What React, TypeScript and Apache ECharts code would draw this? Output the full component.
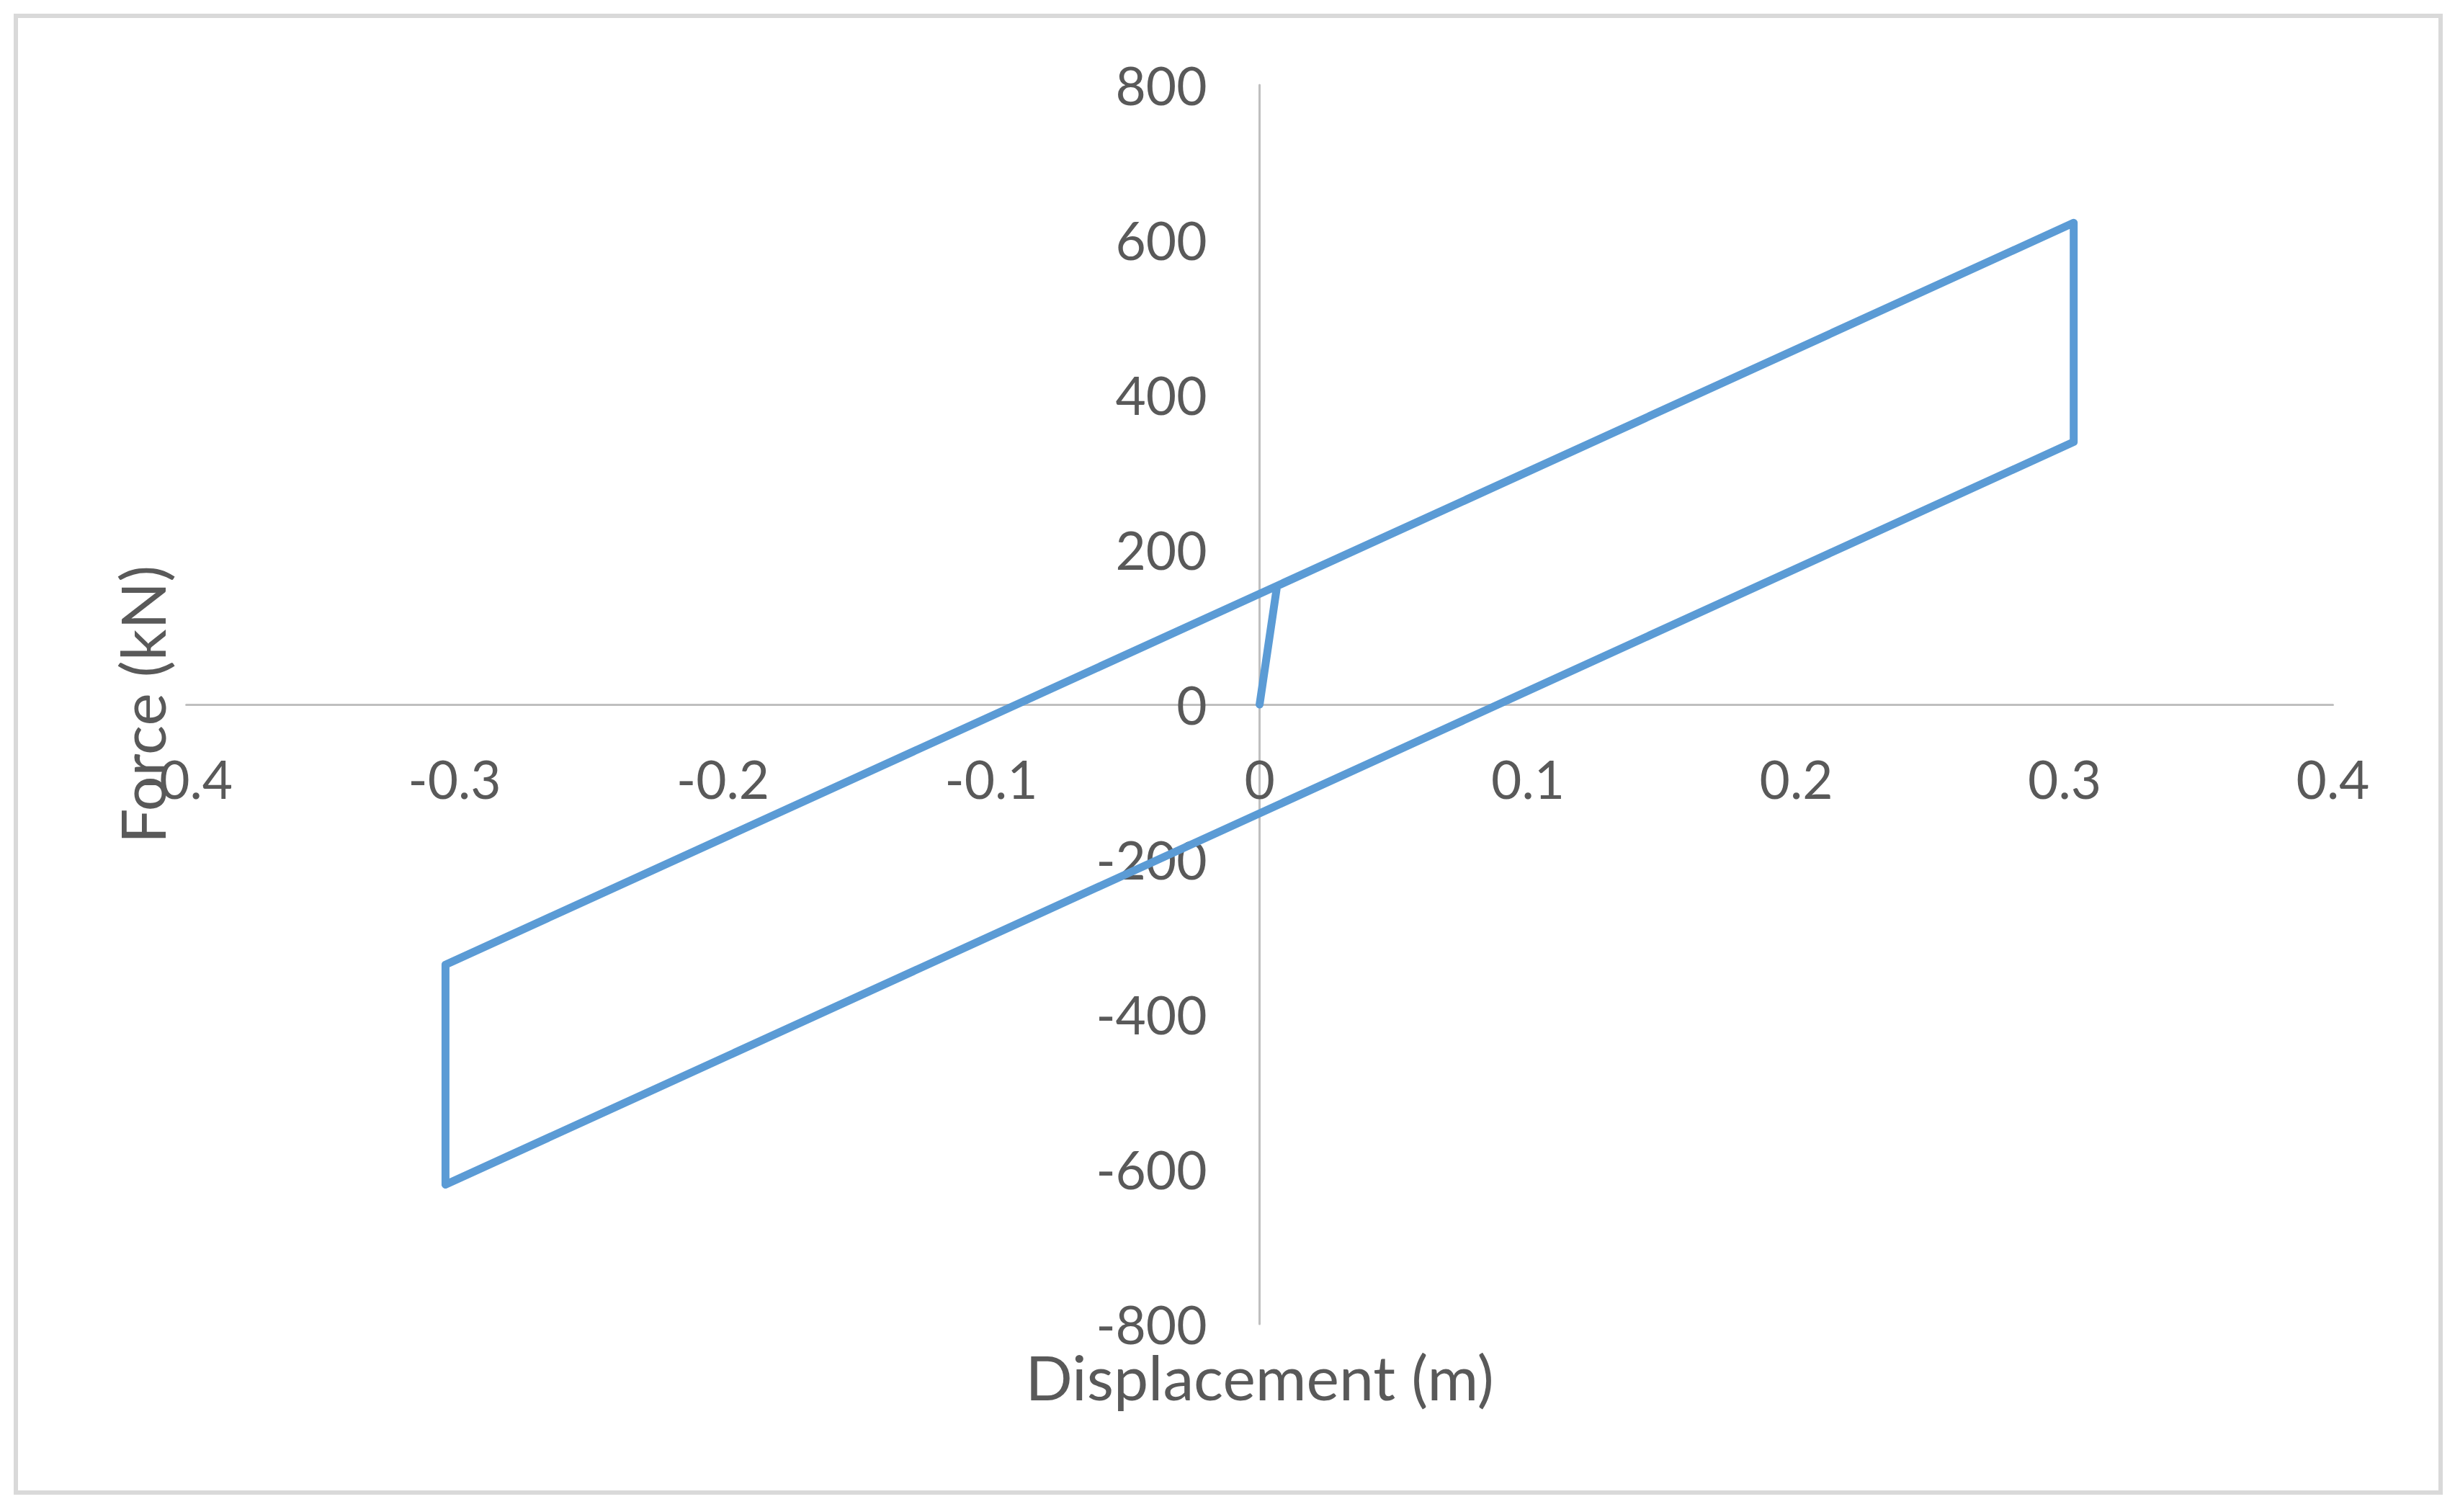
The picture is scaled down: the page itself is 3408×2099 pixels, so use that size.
import React, { useEffect, useRef } from "react";
import * as echarts from "echarts";

// Hysteresis loop: displacement (m) vs force (kN)
const displacement = [0, 0.0065, 0.3034, 0.3034, -0.3034, -0.3034, 0.3034];
const force = [0, 153, 622, 339, -620, -336, 622];

const xTicks = [-0.4, -0.3, -0.2, -0.1, 0, 0.1, 0.2, 0.3, 0.4];
const yTicks = [-800, -600, -400, -200, 0, 200, 400, 600, 800];

const xTitle = "Displacement (m)";
const yTitle = "Force (kN)";

const FONT = "Lato, 'Open Sans', sans-serif";
const TEXT = "#595959";

export default function App() {
  const ref = useRef<HTMLDivElement>(null);

  useEffect(() => {
    if (!ref.current) return;
    const chart = echarts.init(ref.current, undefined, { renderer: "svg" });
    const gridLeft = 258.6;
    const gridRight = 3238.5;
    const gridTop = 118;
    const gridBottom = 1838;
    const zeroX = gridLeft + (gridRight - gridLeft) / 2;
    const zeroY = gridTop + (gridBottom - gridTop) / 2;

    chart.setOption({
      animation: false,
      backgroundColor: "#ffffff",
      grid: {
        left: gridLeft,
        top: gridTop,
        width: gridRight - gridLeft,
        height: gridBottom - gridTop,
        containLabel: false,
        outerBoundsMode: "none",
      },
      xAxis: {
        type: "value",
        min: xTicks[0],
        max: xTicks[xTicks.length - 1],
        interval: 0.1,
        offset: -(gridBottom - zeroY),
        splitLine: { show: false },
        axisTick: { show: false },
        axisLine: { onZero: false, lineStyle: { color: "#bfbfbf", width: 3 } },
        axisLabel: {
          color: TEXT,
          fontFamily: FONT,
          fontSize: 73,
          margin: 103,
          verticalAlign: "middle",
          showMinLabel: true,
          showMaxLabel: true,
          formatter: (v: number) => {
            const t = xTicks.find((k) => Math.abs(k - v) < 1e-9);
            return t === undefined ? "" : String(t);
          },
        },
        name: xTitle,
        nameLocation: "middle",
        nameGap: 932,
        nameTextStyle: {
          color: TEXT,
          fontFamily: FONT,
          fontSize: 86,
          verticalAlign: "middle",
        },
      },
      yAxis: {
        type: "value",
        min: yTicks[0],
        max: yTicks[yTicks.length - 1],
        interval: 200,
        offset: -(zeroX - gridLeft),
        splitLine: { show: false },
        axisTick: { show: false },
        axisLine: { onZero: false, lineStyle: { color: "#bfbfbf", width: 3 } },
        axisLabel: {
          color: TEXT,
          fontFamily: FONT,
          fontSize: 73,
          margin: 73,
          showMinLabel: true,
          showMaxLabel: true,
          formatter: (v: number) => {
            const t = yTicks.find((k) => Math.abs(k - v) < 1e-6);
            return t === undefined ? "" : String(t);
          },
        },
        name: yTitle,
        nameLocation: "middle",
        nameGap: 1552,
        nameTextStyle: {
          color: TEXT,
          fontFamily: FONT,
          fontSize: 86,
          verticalAlign: "middle",
        },
      },
      graphic: [
        {
          type: "rect",
          shape: { x: 22, y: 22, width: 3366, height: 2050 },
          style: { fill: "none", stroke: "#d9d9d9", lineWidth: 6 },
          silent: true,
          z: 100,
        },
      ],
      series: [
        {
          type: "line",
          data: displacement.map((d, i) => [d, force[i]]),
          showSymbol: false,
          symbol: "none",
          lineStyle: {
            color: "#5b9bd5",
            width: 11,
            join: "round",
            cap: "round",
          },
          itemStyle: { color: "#5b9bd5" },
        },
      ],
    });

    return () => chart.dispose();
  }, []);

  return (
    <div
      ref={ref}
      style={{ position: "absolute", left: 0, top: 0, width: 3408, height: 2099 }}
    />
  );
}
